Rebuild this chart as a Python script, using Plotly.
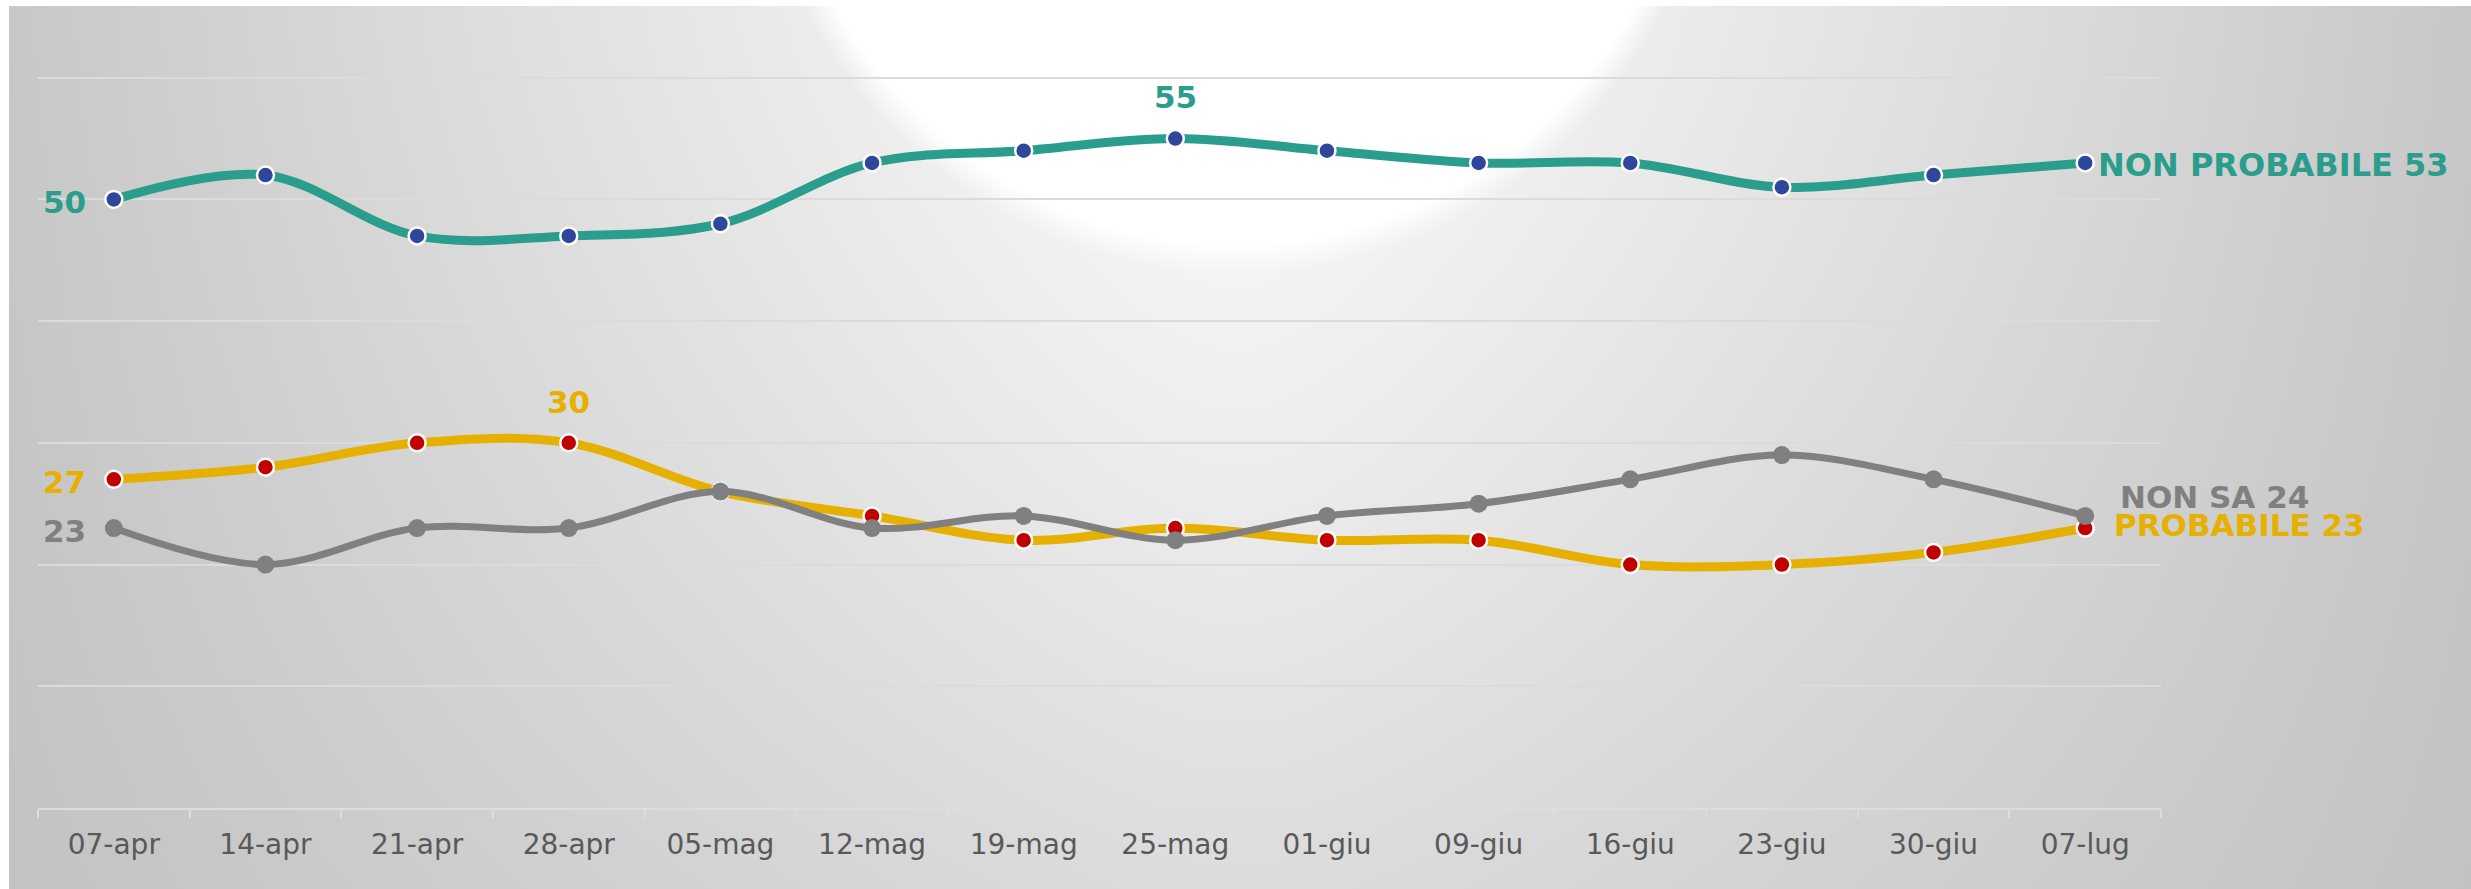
import base64
import struct
import zlib

import numpy as np
import plotly.graph_objects as go

# Survey weeks
weeks = ["07-apr", "14-apr", "21-apr", "28-apr", "05-mag", "12-mag", "19-mag",
         "25-mag", "01-giu", "09-giu", "16-giu", "23-giu", "30-giu", "07-lug"]

# Percentages per answer
non_probabile = [50, 52, 47, 47, 48, 53, 54, 55, 54, 53, 53, 51, 52, 53]
probabile = [27, 28, 30, 30, 26, 24, 22, 23, 22, 22, 20, 20, 21, 23]
non_sa = [23, 20, 23, 23, 26, 23, 24, 22, 24, 25, 27, 29, 27, 24]

GREEN = "#2A9D8C"
BLUE = "#2E469B"
YELLOW = "#E6B000"
RED = "#C00000"
GREY = "#808080"
FONT = "DejaVu Sans, Liberation Sans, Arial, sans-serif"

W, H = 2471, 889
ML, MR, MT, MB = 38, 310, 29, 81
YMAX = 64


def gray_png(arr):
    """Encode a 2-D uint8 array as a greyscale PNG."""
    h, w = arr.shape
    raw = b"".join(b"\x00" + row.tobytes() for row in arr)

    def chunk(tag, data):
        return (struct.pack(">I", len(data)) + tag + data
                + struct.pack(">I", zlib.crc32(tag + data) & 0xFFFFFFFF))

    ihdr = struct.pack(">IIBBBBB", w, h, 8, 0, 0, 0, 0)
    return (b"\x89PNG\r\n\x1a\n" + chunk(b"IHDR", ihdr)
            + chunk(b"IDAT", zlib.compress(raw, 9)) + chunk(b"IEND", b""))


# Grey backdrop: darker towards the sides and the bottom, white bowl at the top centre
bx0, by0 = 9, 6
step = 2
gw, gh = (W - bx0) // step, (H - by0) // step
X = bx0 + (np.arange(gw) + 0.5) * step
Y = by0 + (np.arange(gh) + 0.5) * step
XX, YY = np.meshgrid(X, Y)
u = np.clip(np.sqrt(((XX - 1235) / 1235) ** 2 + 0.004) - 0.063, 0, 1)
a = 0.9 * u ** 1.1
b = 0.5 * (YY / H) ** 1.3
g = 1 - (1 - a) * (1 - b)
val = 250 - 60 * g
e = np.sqrt(((XX - 1235) / 490) ** 2 + ((YY + 231) / 507) ** 2)
glow = np.clip((1.0 - e) / 0.06, 0, 1)
val = val + (255 - val) * glow
bg_png = gray_png(np.clip(val, 0, 255).astype(np.uint8))
bg_uri = "data:image/png;base64," + base64.b64encode(bg_png).decode()

plot_w = W - ML - MR
plot_h = H - MT - MB

fig = go.Figure()

series = [
    (non_probabile, GREEN, 9, dict(color=BLUE, size=17, line=dict(color="white", width=2.5))),
    (probabile, YELLOW, 9, dict(color=RED, size=17, line=dict(color="white", width=2.5))),
    (non_sa, GREY, 7, dict(color=GREY, size=18, line=dict(width=0))),
]
for values, lc, lw, mk in series:
    fig.add_trace(go.Scatter(
        x=weeks, y=values, mode="lines+markers",
        line=dict(color=lc, width=lw, shape="spline", smoothing=1.0),
        marker=mk, hoverinfo="skip", showlegend=False,
    ))


def label(values, i, text, color, size, xanchor="center", xshift=0, yshift=0):
    fig.add_annotation(
        x=weeks[i], y=values[i], text=text, showarrow=False,
        xanchor=xanchor, yanchor="middle", xshift=xshift, yshift=yshift,
        font=dict(family=FONT, size=size, color=color, weight="bold"),
    )


last = len(weeks) - 1
i_max_np = non_probabile.index(max(non_probabile))
i_max_p = 3

label(non_probabile, 0, f"{non_probabile[0]}", GREEN, 31, "right", -26, -3)
label(non_probabile, i_max_np, f"{non_probabile[i_max_np]}", GREEN, 31, "center", 0, 42)
label(non_probabile, last, f"NON PROBABILE {non_probabile[last]}", GREEN, 32, "left", 11, -2)

label(probabile, 0, f"{probabile[0]}", YELLOW, 31, "right", -26, -3)
label(probabile, i_max_p, f"{probabile[i_max_p]}", YELLOW, 31, "center", 0, 41)
label(probabile, last, f"PROBABILE {probabile[last]}", YELLOW, 31, "left", 27, 3)

label(non_sa, 0, f"{non_sa[0]}", GREY, 31, "right", -26, -3)
label(non_sa, last, f"NON SA {non_sa[last]}", GREY, 31, "left", 33, 19)

fig.add_layout_image(
    source=bg_uri, xref="paper", yref="paper",
    x=(bx0 - ML) / plot_w, y=(H - MB - by0) / plot_h,
    sizex=(W - bx0) / plot_w, sizey=(H - by0) / plot_h,
    xanchor="left", yanchor="top", sizing="stretch", layer="below",
)

fig.update_layout(
    width=W, height=H, autosize=False,
    margin=dict(l=ML, r=MR, t=MT, b=MB, pad=0),
    paper_bgcolor="white", plot_bgcolor="rgba(0,0,0,0)",
    showlegend=False,
)
fig.update_xaxes(
    type="category", range=[-0.5, len(weeks) - 0.5],
    showgrid=False, showline=True, linecolor="#DDDDDD", linewidth=2,
    ticks="outside", tickson="boundaries", ticklen=8, tickwidth=2, tickcolor="#DDDDDD",
    tickfont=dict(family=FONT, size=28, color="#595959"),
    ticklabelstandoff=10,
)
fig.update_yaxes(
    range=[0, YMAX], dtick=10, tick0=0, showticklabels=False,
    showgrid=True, gridcolor="#DBDBDB", gridwidth=2, zeroline=False, showline=False,
)

fig.write_html("out.html")
